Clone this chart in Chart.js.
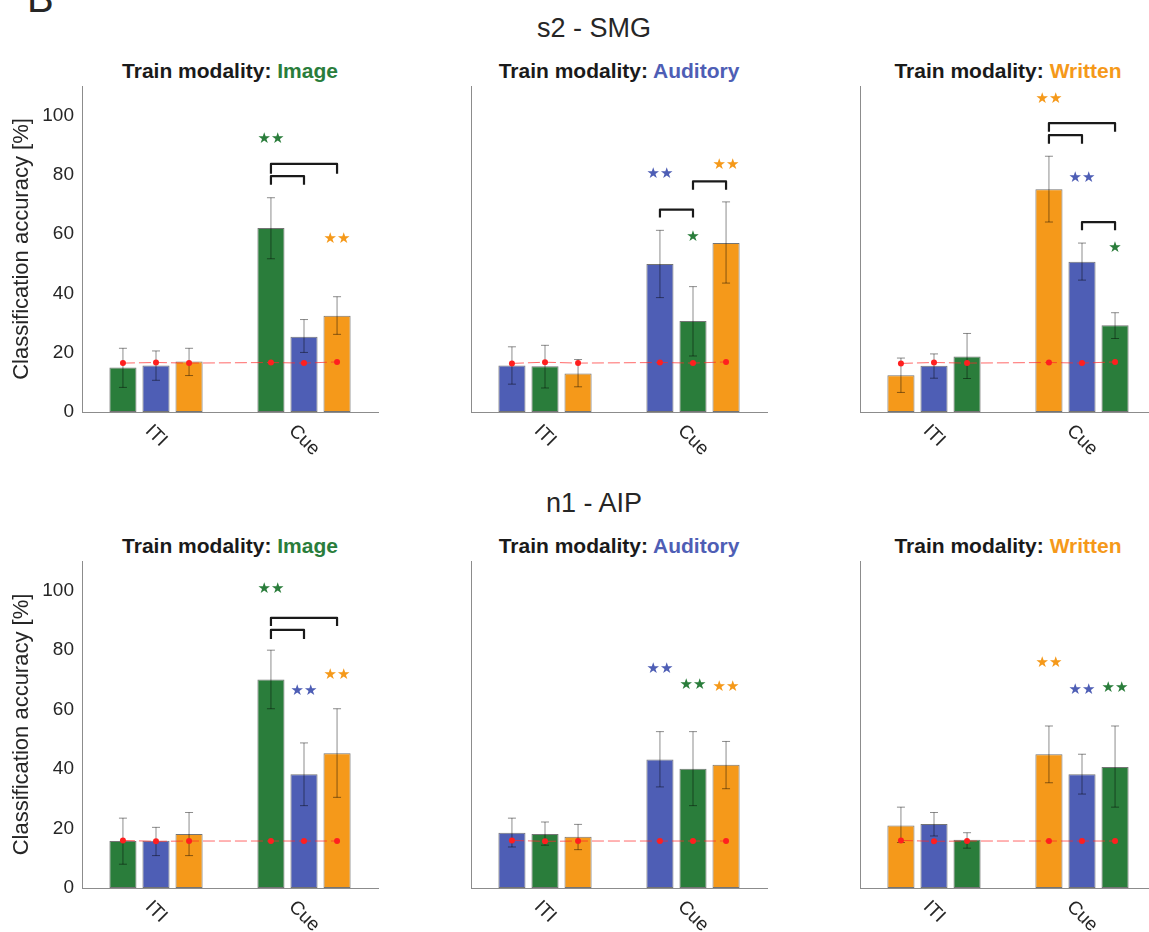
<!DOCTYPE html>
<html>
<head>
<meta charset="utf-8">
<script src="https://cdn.jsdelivr.net/npm/chart.js@4.4.1/dist/chart.umd.min.js"></script>
<style>
  html, body { margin: 0; padding: 0; background: #fff; }
  #wrap { position: relative; width: 1149px; height: 932px; overflow: hidden; font-family: "Liberation Sans", Arial, Helvetica, sans-serif; color: #262626; }
  .txt { position: absolute; line-height: 1; white-space: nowrap; transform: translate(-50%, -50%); }
  .sup { font-size: 27px; }
  .ptitle { font-size: 21px; font-weight: bold; color: #1a1a1a; }
  canvas { position: absolute; }
</style>
</head>
<body>
<div id="wrap">
  <div style="position:absolute;left:27px;top:-22px;font-size:40px;line-height:1;">B</div>
</div>
<script>
const categories = ['ITI', 'Cue']
const yTicks = [0, 20, 40, 60, 80, 100]
const modalityColors = { Image: '#2a7d3b', Auditory: '#4e5eb5', Written: '#f5991a' }
const rowTitles = ['s2 - SMG', 'n1 - AIP']

// bar order inside each panel
const orderImage = ['Image', 'Auditory', 'Written']
const orderAuditory = ['Auditory', 'Image', 'Written']
const orderWritten = ['Written', 'Auditory', 'Image']

// s2 - SMG, per bar series: [ITI, Cue]
const s2ImageMean = [[15.0, 62.1], [15.7, 25.4], [17.0, 32.5]]
const s2ImageLow = [[8.3, 51.7], [10.7, 20.1], [12.3, 26.2]]
const s2ImageHigh = [[21.5, 72.3], [20.6, 31.2], [21.5, 38.9]]
const s2ImageChance = [[16.5, 16.7], [16.7, 16.5], [16.5, 16.9]]

const s2AuditoryMean = [[15.7, 49.9], [15.4, 30.7], [13.0, 57.0]]
const s2AuditoryLow = [[9.4, 38.6], [8.1, 18.9], [8.5, 43.5]]
const s2AuditoryHigh = [[22.0, 61.3], [22.5, 42.3], [17.7, 70.9]]
const s2AuditoryChance = [[16.4, 16.7], [16.8, 16.5], [16.5, 16.9]]

const s2WrittenMean = [[12.4, 75.2], [15.6, 50.7], [18.7, 29.3]]
const s2WrittenLow = [[6.6, 64.1], [11.4, 44.5], [11.3, 24.8]]
const s2WrittenHigh = [[18.2, 86.3], [19.6, 57.0], [26.5, 33.5]]
const s2WrittenChance = [[16.4, 16.7], [16.7, 16.5], [16.5, 16.9]]

// n1 - AIP
const n1ImageMean = [[15.8, 70.1], [15.9, 38.3], [18.2, 45.3]]
const n1ImageLow = [[8.0, 60.3], [10.9, 27.7], [10.9, 30.5]]
const n1ImageHigh = [[23.5, 80.0], [20.4, 48.8], [25.4, 60.3]]
const n1ImageChance = [[16.0, 15.8], [15.7, 15.8], [15.8, 15.8]]

const n1AuditoryMean = [[18.6, 43.2], [18.2, 40.1], [17.2, 41.5]]
const n1AuditoryLow = [[13.8, 34.0], [14.4, 27.7], [12.9, 33.4]]
const n1AuditoryHigh = [[23.5, 52.6], [22.2, 52.6], [21.4, 49.3]]
const n1AuditoryChance = [[16.0, 15.8], [15.7, 15.8], [15.8, 15.8]]

const n1WrittenMean = [[21.0, 45.0], [21.5, 38.3], [16.2, 40.7]]
const n1WrittenLow = [[15.3, 35.4], [17.5, 31.6], [13.4, 27.2]]
const n1WrittenHigh = [[27.2, 54.5], [25.4, 45.0], [18.6, 54.5]]
const n1WrittenChance = [[16.0, 15.8], [15.7, 15.8], [15.8, 15.8]]

// significance stars over Cue bars: [bar, label, y]
const s2ImageStars = [[0, '★★', 92.2], [2, '★★', 58.5]]
const s2AuditoryStars = [[0, '★★', 80.2], [1, '★', 58.9], [2, '★★', 83.4]]
const s2WrittenStars = [[0, '★★', 105.5], [1, '★★', 78.8], [2, '★', 55.4]]
const n1ImageStars = [[0, '★★', 100.4], [1, '★★', 66.4], [2, '★★', 71.7]]
const n1AuditoryStars = [[0, '★★', 73.5], [1, '★★', 68.2], [2, '★★', 67.7]]
const n1WrittenStars = [[0, '★★', 75.5], [1, '★★', 66.7], [2, '★★', 67.1]]

// brackets between Cue bars: [barA, barB, top, tickEnd]
const s2ImageBrackets = [[0, 1, 79.6, 76.7], [0, 2, 83.7, 80.4]]
const s2AuditoryBrackets = [[0, 1, 68.3, 65.6], [1, 2, 77.8, 75.0]]
const s2WrittenBrackets = [[0, 2, 97.5, 94.6], [0, 1, 93.4, 90.5], [1, 2, 64.1, 61.3]]
const n1ImageBrackets = [[0, 2, 90.9, 88.1], [0, 1, 86.8, 83.8]]
const n1AuditoryBrackets = []
const n1WrittenBrackets = []

const FONT = '"Liberation Sans", Arial, Helvetica, sans-serif'

const panels = [
  { row: 0, col: 0, train: 'Image', order: orderImage, mean: s2ImageMean, low: s2ImageLow, high: s2ImageHigh, chance: s2ImageChance, stars: s2ImageStars, brackets: s2ImageBrackets },
  { row: 0, col: 1, train: 'Auditory', order: orderAuditory, mean: s2AuditoryMean, low: s2AuditoryLow, high: s2AuditoryHigh, chance: s2AuditoryChance, stars: s2AuditoryStars, brackets: s2AuditoryBrackets },
  { row: 0, col: 2, train: 'Written', order: orderWritten, mean: s2WrittenMean, low: s2WrittenLow, high: s2WrittenHigh, chance: s2WrittenChance, stars: s2WrittenStars, brackets: s2WrittenBrackets },
  { row: 1, col: 0, train: 'Image', order: orderImage, mean: n1ImageMean, low: n1ImageLow, high: n1ImageHigh, chance: n1ImageChance, stars: n1ImageStars, brackets: n1ImageBrackets },
  { row: 1, col: 1, train: 'Auditory', order: orderAuditory, mean: n1AuditoryMean, low: n1AuditoryLow, high: n1AuditoryHigh, chance: n1AuditoryChance, stars: n1AuditoryStars, brackets: n1AuditoryBrackets },
  { row: 1, col: 2, train: 'Written', order: orderWritten, mean: n1WrittenMean, low: n1WrittenLow, high: n1WrittenHigh, chance: n1WrittenChance, stars: n1WrittenStars, brackets: n1WrittenBrackets }
]

// layout of the figure
const colLeft = [0, 389, 778]
const canvasW = 389
const axisLeft = 82
const plotW = 296
const rowCanvasTop = [80, 555]
const rowCanvasH = [390, 377]
const rowPadBottom = [58, 44]
const rowTitleY = [70, 545]
const rowSupY = [28, 503]

const wrap = document.getElementById('wrap')

rowTitles.forEach((t, r) => {
  const d = document.createElement('div')
  d.className = 'txt sup'
  d.style.left = '594px'
  d.style.top = rowSupY[r] + 'px'
  d.textContent = t
  wrap.appendChild(d)
})

function overlayPlugin(p) {
  return {
    id: 'overlay' + p.row + p.col,
    afterDatasetsDraw(chart) {
      const ctx = chart.ctx
      const ys = chart.scales.y
      const barX = (ds, j) => chart.getDatasetMeta(ds).data[j].x
      ctx.save()
      // error bars
      ctx.strokeStyle = 'rgba(0,0,0,0.45)'
      ctx.lineWidth = 1
      p.mean.forEach((m, i) => {
        for (let j = 0; j < categories.length; j++) {
          const x = barX(i, j)
          const y1 = ys.getPixelForValue(p.low[i][j])
          const y2 = ys.getPixelForValue(p.high[i][j])
          ctx.beginPath()
          ctx.moveTo(x, y1); ctx.lineTo(x, y2)
          ctx.moveTo(x - 4, y1); ctx.lineTo(x + 4, y1)
          ctx.moveTo(x - 4, y2); ctx.lineTo(x + 4, y2)
          ctx.stroke()
        }
      })
      // chance level
      const pts = []
      for (let j = 0; j < categories.length; j++) {
        p.chance.forEach((c, i) => pts.push([barX(i, j), ys.getPixelForValue(c[j])]))
      }
      ctx.strokeStyle = 'rgba(255,40,40,0.7)'
      ctx.setLineDash([12, 4])
      ctx.beginPath()
      pts.forEach(([x, y], k) => (k ? ctx.lineTo(x, y) : ctx.moveTo(x, y)))
      ctx.stroke()
      ctx.setLineDash([])
      ctx.fillStyle = '#ff1f1f'
      pts.forEach(([x, y]) => {
        ctx.beginPath()
        ctx.arc(x, y, 3, 0, Math.PI * 2)
        ctx.fill()
      })
      // brackets
      const cue = categories.indexOf('Cue')
      ctx.strokeStyle = '#1a1a1a'
      ctx.lineWidth = 2.2
      ctx.lineJoin = 'round'
      p.brackets.forEach(([a, b, top, end]) => {
        const xa = barX(a, cue), xb = barX(b, cue)
        const yt = ys.getPixelForValue(top), ye = ys.getPixelForValue(end)
        ctx.beginPath()
        ctx.moveTo(xa, ye); ctx.lineTo(xa, yt); ctx.lineTo(xb, yt); ctx.lineTo(xb, ye)
        ctx.stroke()
      })
      // stars
      ctx.font = '15px "DejaVu Sans", sans-serif'
      ctx.textAlign = 'center'
      ctx.textBaseline = 'middle'
      p.stars.forEach(([i, label, v]) => {
        ctx.fillStyle = modalityColors[p.order[i]]
        ctx.fillText(label, barX(i, cue), ys.getPixelForValue(v))
      })
      ctx.restore()
    },
    afterDraw(chart) {
      const ctx = chart.ctx
      const xs = chart.scales.x
      const base = chart.chartArea.bottom
      ctx.save()
      ctx.font = '19px ' + FONT
      ctx.fillStyle = '#262626'
      ctx.textAlign = 'center'
      ctx.textBaseline = 'middle'
      categories.forEach((c, i) => {
        const w = ctx.measureText(c).width
        const ext = (w + 14) / Math.SQRT2 / 2
        ctx.save()
        ctx.translate(xs.getPixelForValue(i), base + 11 + ext)
        ctx.rotate(Math.PI / 4)
        ctx.fillText(c, 0, 0)
        ctx.restore()
      })
      ctx.restore()
    }
  }
}

panels.forEach(p => {
  const showY = p.col === 0
  const t = document.createElement('div')
  t.className = 'txt ptitle'
  t.style.left = (colLeft[p.col] + axisLeft + plotW / 2) + 'px'
  t.style.top = rowTitleY[p.row] + 'px'
  const a = document.createElement('span')
  a.textContent = 'Train modality: '
  const b = document.createElement('span')
  b.textContent = p.train
  b.style.color = modalityColors[p.train]
  t.appendChild(a); t.appendChild(b)
  wrap.appendChild(t)

  const canvas = document.createElement('canvas')
  canvas.width = canvasW
  canvas.height = rowCanvasH[p.row]
  canvas.style.left = colLeft[p.col] + 'px'
  canvas.style.top = rowCanvasTop[p.row] + 'px'
  wrap.appendChild(canvas)

  new Chart(canvas.getContext('2d'), {
    type: 'bar',
    data: {
      labels: categories,
      datasets: p.order.map((m, i) => ({
        label: m,
        data: p.mean[i],
        backgroundColor: modalityColors[m],
        borderColor: 'rgba(70,70,70,0.75)',
        borderWidth: 1,
        borderSkipped: false,
        categoryPercentage: 0.67,
        barPercentage: 0.82
      }))
    },
    options: {
      responsive: false,
      animation: false,
      devicePixelRatio: 1,
      layout: { padding: { left: 0, right: canvasW - axisLeft - plotW, top: 6, bottom: rowPadBottom[p.row] } },
      plugins: { legend: { display: false }, tooltip: { enabled: false } },
      scales: {
        x: {
          grid: { display: false, drawTicks: false },
          border: { display: true, color: '#8c8c8c', width: 1 },
          ticks: { display: false },
          afterFit: s => { s.height = 0; s.paddingLeft = 0; s.paddingRight = 0 }
        },
        y: {
          min: 0,
          max: 110,
          afterBuildTicks: s => { s.ticks = yTicks.map(v => ({ value: v })) },
          afterFit: s => { s.width = axisLeft; s.paddingTop = 0; s.paddingBottom = 0 },
          grid: { display: false, drawTicks: false },
          border: { display: true, color: '#8c8c8c', width: 1 },
          ticks: { display: showY, padding: 8, color: '#262626', font: { size: 19, family: FONT } },
          title: {
            display: showY,
            text: 'Classification accuracy [%]',
            color: '#262626',
            font: { size: 22, family: FONT },
            padding: { top: 9, bottom: 0 }
          }
        }
      }
    },
    plugins: [overlayPlugin(p)]
  })
})
</script>
</body>
</html>
